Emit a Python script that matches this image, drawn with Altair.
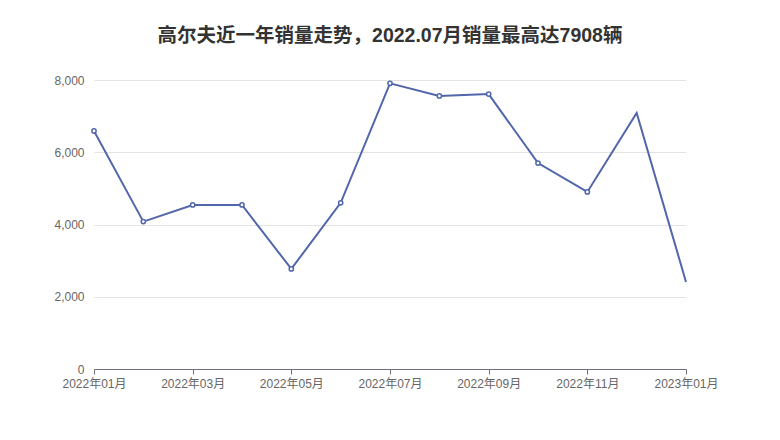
import altair as alt
import pandas as pd

months = ["2022年01月", "2022年02月", "2022年03月", "2022年04月", "2022年05月", "2022年06月",
          "2022年07月", "2022年08月", "2022年09月", "2022年10月", "2022年11月", "2022年12月",
          "2023年01月"]
sales = [6590, 4080, 4540, 4540, 2770, 4600, 7908, 7560, 7610, 5700, 4900, 7090, 2410]
tick_months = months[::2]
marked_months = months[:11]

df = pd.DataFrame({"month": months, "sales": sales})
df["marked"] = df["month"].isin(marked_months)

color = "#5166ab"
font = "Liberation Sans, Noto Sans CJK SC, sans-serif"

x = alt.X("month:O", sort=months, title=None,
          scale=alt.Scale(type="point", padding=0),
          axis=alt.Axis(values=tick_months, labelAngle=0, labelColor="#666666",
                        labelFontSize=12, labelFont=font, domainColor="#6e7079",
                        tickColor="#6e7079", tickSize=5, labelPadding=4, grid=False))
y = alt.Y("sales:Q", title=None,
          scale=alt.Scale(domain=[0, 8000]),
          axis=alt.Axis(values=[0, 2000, 4000, 6000, 8000], format=",.0f", labelColor="#666666",
                        labelFontSize=12, labelFont=font, domain=False, ticks=False,
                        labelPadding=10, gridColor="#e3e3e3"))

line = alt.Chart(df).mark_line(color=color, strokeWidth=2).encode(x=x, y=y)
pts = alt.Chart(df).transform_filter("datum.marked").mark_point(
    shape="circle", filled=True, fill="white", stroke=color, strokeWidth=1.5,
    size=18, opacity=1).encode(x=x, y=y)

chart = (line + pts).properties(
    width=592, height=289,
    title=alt.TitleParams("高尔夫近一年销量走势，2022.07月销量最高达7908辆",
                          fontSize=19.5, fontWeight="bold", color="#333333",
                          font=font, anchor="middle", offset=28),
    autosize=alt.AutoSizeParams(type="none"),
    padding={"left": 86, "top": 72, "right": 80, "bottom": 60},
).configure_view(stroke=None)

chart.save("out.html", embed_options={"renderer": "svg", "actions": False})
